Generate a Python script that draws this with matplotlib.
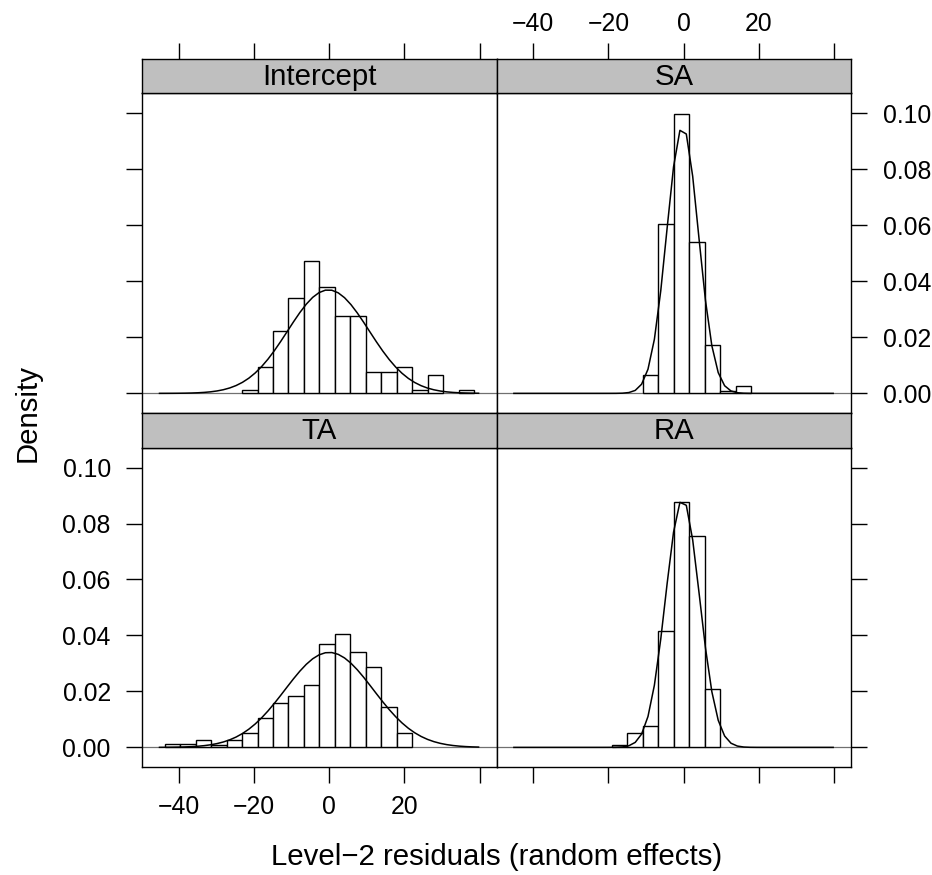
import numpy as np
import matplotlib
matplotlib.use("Agg")
import matplotlib.pyplot as plt

plt.rcParams['font.family'] = ['Liberation Sans', 'DejaVu Sans']

# ---- data ----
panels = ["Intercept", "SA", "TA", "RA"]
bin_edges = [-43.70, -39.59, -35.48, -31.37, -27.26, -23.15, -19.04, -14.93,
             -10.82, -6.71, -2.60, 1.51, 5.62, 9.73, 13.84, 17.95, 22.06,
             26.17, 30.28, 34.39, 38.50]
dens_intercept = [0, 0, 0, 0, 0, 0.0012, 0.0094, 0.0224, 0.0340, 0.0472,
                  0.0378, 0.0275, 0.0275, 0.0077, 0.0077, 0.0094, 0.0012,
                  0.0065, 0, 0.0012]
dens_sa = [0, 0, 0, 0, 0, 0, 0, 0, 0.0065, 0.0605, 0.0996, 0.0539, 0.0171,
           0.0010, 0.0027, 0, 0, 0, 0, 0]
dens_ta = [0.0012, 0.0012, 0.0025, 0.0008, 0.0025, 0.0051, 0.0105, 0.0157,
           0.0185, 0.0223, 0.0368, 0.0407, 0.0342, 0.0288, 0.0145, 0.0051,
           0, 0, 0, 0]
dens_ra = [0, 0, 0, 0, 0, 0, 0.0010, 0.0050, 0.0076, 0.0417, 0.0876, 0.0757,
           0.0207, 0, 0, 0, 0, 0, 0, 0]
densities = {"Intercept": dens_intercept, "SA": dens_sa, "TA": dens_ta, "RA": dens_ra}
curve_mean = {"Intercept": -0.2, "SA": -0.3, "TA": 0.0, "RA": -0.3}
curve_sd = {"Intercept": 10.8, "SA": 4.19, "TA": 11.75, "RA": 4.5}
curve_range = (-45.1, 39.7)
curve_n = 50

x_ticks = [-40, -20, 0, 20, 40]
x_ticklabels = ["\u221240", "\u221220", "0", "20", ""]
y_ticks = [0.00, 0.02, 0.04, 0.06, 0.08, 0.10]
y_ticklabels = ["0.00", "0.02", "0.04", "0.06", "0.08", "0.10"]
xlim = (-49.67, 44.52)
ylim = (-0.0069, 0.1071)

xlabel = "Level\u22122 residuals (random effects)"
ylabel = "Density"

# ---- layout (pixels) ----
W, H = 932, 875
fig = plt.figure(figsize=(W / 100, H / 100), dpi=100)

def rect(x0, x1, ytop, ybot):
    return [x0 / W, 1 - ybot / H, (x1 - x0) / W, (ybot - ytop) / H]

xs = [142.3, 496.7, 851.3]
rows = [  # (strip top, panel top, panel bottom)
    (59.0, 93.3, 412.7),
    (412.7, 447.7, 766.7),
]
grid = {"Intercept": (0, 0), "SA": (0, 1), "TA": (1, 0), "RA": (1, 1)}

TICK_LEN = 11.2
LW = 1.0
FS_TICK = 17.8
FS_LAB = 21.2

for name in panels:
    r, c = grid[name]
    st, pt, pb = rows[r]
    x0, x1 = xs[c], xs[c + 1]
    ax = fig.add_axes(rect(x0, x1, pt, pb))
    sax = fig.add_axes(rect(x0, x1, st, pt), sharex=ax)

    # histogram
    edges = np.array(bin_edges)
    d = np.array(densities[name])
    mask = d > 0
    ax.axhline(0, color="#707070", lw=0.9, zorder=1)
    ax.bar(edges[:-1][mask], d[mask], width=np.diff(edges)[mask], align="edge",
           facecolor="white", edgecolor="black", linewidth=LW, zorder=2)
    xx = np.linspace(curve_range[0], curve_range[1], curve_n + 1)
    m, s = curve_mean[name], curve_sd[name]
    yy = np.exp(-0.5 * ((xx - m) / s) ** 2) / (s * np.sqrt(2 * np.pi))
    ax.plot(xx, yy, color="black", lw=1.1, zorder=3, clip_on=False)

    ax.set_xlim(*xlim)
    ax.set_ylim(*ylim)
    for sp in ax.spines.values():
        sp.set_linewidth(LW)

    # x ticks
    ax.set_xticks(x_ticks)
    ax.tick_params(axis="x", direction="out", length=TICK_LEN, width=LW,
                   labelsize=FS_TICK, pad=9.5)
    ax.tick_params(axis="y", direction="out", length=TICK_LEN, width=LW,
                   labelsize=FS_TICK, pad=11.5)
    if r == 1:
        ax.xaxis.set_ticks_position("bottom")
        if c == 0:
            ax.set_xticklabels(x_ticklabels)
        else:
            ax.tick_params(axis="x", labelbottom=False)
    else:
        ax.tick_params(axis="x", bottom=False, labelbottom=False)

    # y ticks
    ax.set_yticks(y_ticks)
    ax.set_yticklabels(y_ticklabels)
    if c == 0:
        ax.yaxis.set_ticks_position("left")
        if r == 0:
            ax.tick_params(axis="y", labelleft=False)
    else:
        ax.yaxis.set_ticks_position("right")
        if r == 0:
            ax.tick_params(axis="y", labelright=True)
        else:
            ax.tick_params(axis="y", labelright=False)

    # strip
    sax.set_facecolor("#bfbfbf")
    sax.set_yticks([])
    for sp in sax.spines.values():
        sp.set_linewidth(LW)
    sax.text(0.5, 0.47, name, transform=sax.transAxes, ha="center", va="center",
             fontsize=FS_LAB)
    if r == 0:
        sax.xaxis.set_ticks_position("top")
        sax.tick_params(axis="x", direction="out", length=TICK_LEN, width=LW,
                        labelsize=FS_TICK, pad=5.5, labelbottom=False,
                        labeltop=(c == 1))
        sax.set_xticks(x_ticks)
        sax.set_xticklabels(x_ticklabels)
    else:
        sax.tick_params(axis="x", bottom=False, top=False, labelbottom=False,
                        labeltop=False)

fig.text(497 / W, 1 - 857 / H, xlabel, ha="center", va="center", fontsize=FS_LAB)
fig.text(28 / W, 1 - 413 / H, ylabel, ha="center", va="center", rotation=90,
         fontsize=FS_LAB)

fig.savefig("out.png", dpi=100)
